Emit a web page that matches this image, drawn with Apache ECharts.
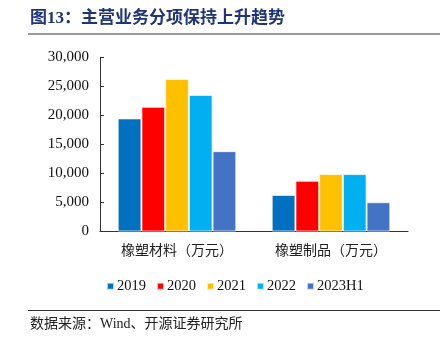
<!DOCTYPE html>
<html>
<head>
<meta charset="utf-8">
<script src="https://cdn.jsdelivr.net/npm/echarts@6/dist/echarts.min.js"></script>
<style>
html,body{margin:0;padding:0;background:#fff;}
#chart{width:448px;height:342px;}
</style>
</head>
<body>
<div id="chart"></div>
<script>
var titleText = '图13：主营业务分项保持上升趋势';
var sourceText = '数据来源：Wind、开源证券研究所';
var categories = ['橡塑材料（万元）', '橡塑制品（万元）'];
var seriesNames = ['2019', '2020', '2021', '2022', '2023H1'];
var s2019 = [19500, 6300];
var s2020 = [21500, 8750];
var s2021 = [26300, 9900];
var s2022 = [23550, 9900];
var s2023H1 = [13850, 5050];
var yTicks = [0, 5000, 10000, 15000, 20000, 25000, 30000];
var colors = ['#0070C0', '#FF0000', '#FFC000', '#00B0F0', '#4472C4'];

var seriesData = [s2019, s2020, s2021, s2022, s2023H1];
var serif = "'Liberation Serif', 'Noto Sans CJK SC', serif";
var chart = echarts.init(document.getElementById('chart'));
chart.setOption({
  animation: false,
  color: colors,
  grid: {left: 100, right: 40, top: 57.5, bottom: 110.5},
  graphic: [
    {type: 'text', left: 30, top: 10, style: {text: titleText, fill: '#1F3479', font: "bold 17px 'Liberation Serif', 'Noto Sans CJK SC', serif"}},
    {type: 'line', shape: {x1: 28, y1: 34, x2: 440, y2: 34}, style: {stroke: '#9a9a9a', lineWidth: 2}},
    {type: 'line', shape: {x1: 28, y1: 310.5, x2: 440, y2: 310.5}, style: {stroke: '#333', lineWidth: 1}},
    {type: 'text', left: 30, top: 317, style: {text: sourceText, fill: '#222', font: "14px 'Liberation Serif', 'Noto Sans CJK SC', serif"}}
  ],
  legend: {
    left: 101, top: 274,
    itemWidth: 7, itemHeight: 7, itemGap: 10,
    icon: 'rect',
    textStyle: {fontFamily: serif, fontSize: 14.5, color: '#111', padding: [0,0,0,-2]},
    data: seriesNames
  },
  xAxis: {
    type: 'category',
    data: categories,
    axisLine: {lineStyle: {color: '#333', width: 1}},
    axisTick: {inside: true, length: 4, lineStyle: {color: '#333'}},
    axisLabel: {margin: 11, fontSize: 14, color: '#222', fontFamily: "'Noto Sans CJK SC', sans-serif"}
  },
  yAxis: {
    type: 'value',
    min: yTicks[0], max: yTicks[yTicks.length - 1], interval: yTicks[1] - yTicks[0],
    axisLine: {show: true, lineStyle: {color: '#333', width: 1}},
    axisTick: {show: true, inside: true, length: 4, lineStyle: {color: '#333'}},
    splitLine: {show: false},
    axisLabel: {
      margin: 11, fontSize: 15, color: '#111', fontFamily: serif,
      formatter: function (v) { return v.toLocaleString('en-US'); }
    }
  },
  series: seriesNames.map(function (n, i) {
    return {
      name: n, type: 'bar', data: seriesData[i],
      barGap: '0%', barCategoryGap: '23%',
      itemStyle: {color: colors[i], borderColor: 'rgba(255,255,255,0.7)', borderWidth: 1}
    };
  })
});
</script>
</body>
</html>
